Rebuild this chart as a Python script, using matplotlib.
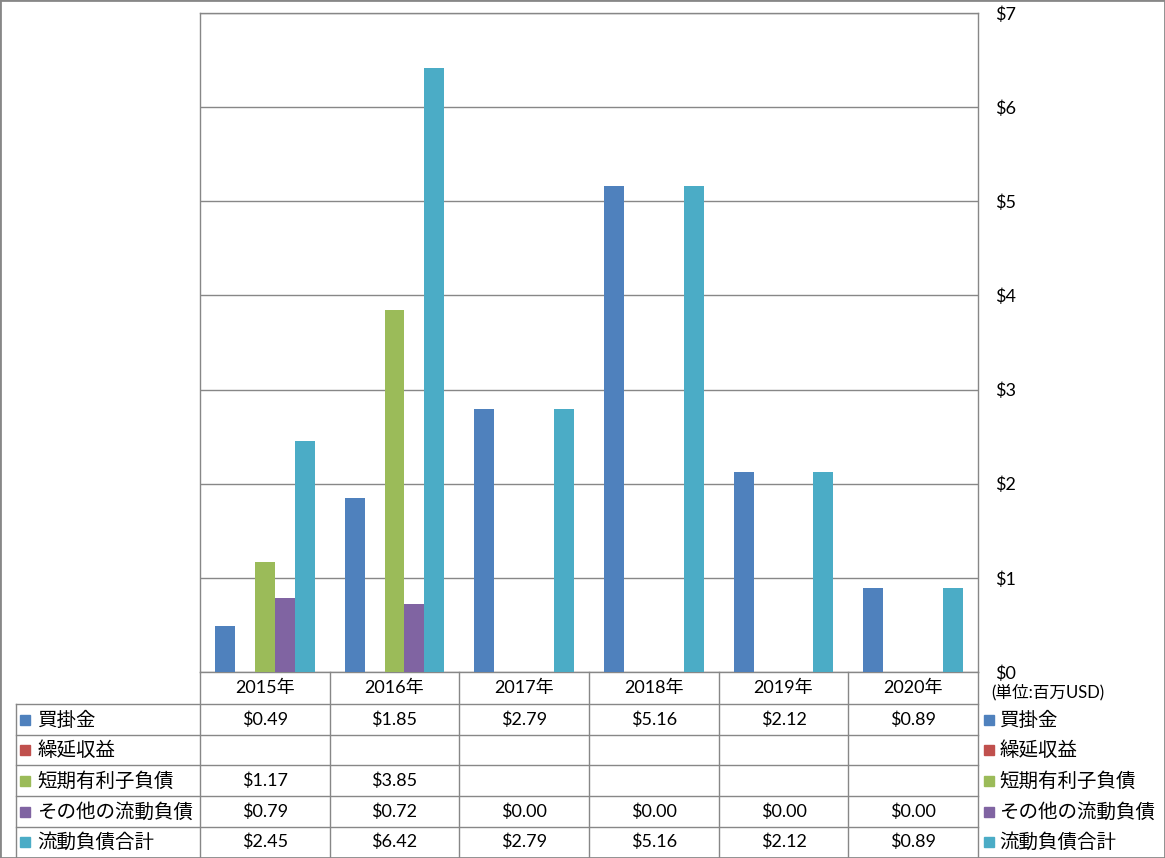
import matplotlib.pyplot as plt
import numpy as np
from matplotlib.lines import Line2D
from matplotlib.patches import Rectangle

plt.rcParams['font.family'] = ['Lato', 'Noto Sans CJK JP', 'DejaVu Sans']

# データ (単位: 百万USD)
years = ['2015年', '2016年', '2017年', '2018年', '2019年', '2020年']
series_names = ['買掛金', '繰延収益', '短期有利子負債', 'その他の流動負債', '流動負債合計']
kaikake = [0.49, 1.85, 2.79, 5.16, 2.12, 0.89]
enen = [np.nan, np.nan, np.nan, np.nan, np.nan, np.nan]
tanki = [1.17, 3.85, np.nan, np.nan, np.nan, np.nan]
sonota = [0.79, 0.72, 0.00, 0.00, 0.00, 0.00]
goukei = [2.45, 6.42, 2.79, 5.16, 2.12, 0.89]
colors = ['#4F81BD', '#C0504D', '#9BBB59', '#8064A2', '#4BACC6']
yticks = [0, 1, 2, 3, 4, 5, 6, 7]

values = [kaikake, enen, tanki, sonota, goukei]

W, H = 1165, 858
grid_c = '#878787'


def fx(x):
    return x / W


def fy(y):
    return 1 - y / H


fig = plt.figure(figsize=(W / 100, H / 100), dpi=100)

# グラフ領域
ax = fig.add_axes([fx(200), fy(672), 778 / W, 659 / H])
n = len(series_names)
gap = 1.5
bw = 1 / (n + gap)
x = np.arange(len(years))
for j, (vals, c) in enumerate(zip(values, colors)):
    ax.bar(x + (gap / 2 + j) * bw, vals, width=bw, align='edge', color=c, zorder=3)

ax.set_xlim(0, len(years))
ax.set_ylim(0, 7)
ax.set_xticks([])
ax.set_yticks(yticks)
ax.set_yticklabels([f'${v}' for v in yticks], fontsize=13)
ax.yaxis.tick_right()
ax.tick_params(axis='y', length=0, pad=12)
for lab in ax.get_yticklabels():
    lab.set_horizontalalignment('left')
ax.grid(axis='y', color=grid_c, linewidth=1, zorder=0)
for s in ax.spines.values():
    s.set_color(grid_c)
    s.set_linewidth(1)

# データテーブル
col_w = 778 / len(years)
col_x = [200 + col_w * k for k in range(len(years) + 1)]
row_y = [672, 704, 735, 765, 796, 827, 857]

def hline(x0, x1, y):
    fig.add_artist(Line2D([fx(x0), fx(x1)], [fy(y), fy(y)], transform=fig.transFigure,
                          color=grid_c, lw=1))


def vline(x, y0, y1):
    fig.add_artist(Line2D([fx(x), fx(x)], [fy(y0), fy(y1)], transform=fig.transFigure,
                          color=grid_c, lw=1))


for y in row_y[1:-1]:
    hline(16, 978, y)
vline(16, 704, 857)
for cx in col_x:
    vline(cx, 672, 857)

# 年ヘッダー
for k, yr in enumerate(years):
    fig.text(fx(col_x[k] + col_w / 2), fy(688), yr, ha='center', va='center', fontsize=13)

# 各行
for r, (name, vals, c) in enumerate(zip(series_names, values, colors)):
    yc = (row_y[r + 1] + row_y[r + 2]) / 2
    fig.patches.append(Rectangle((fx(20), fy(yc + 5)), 10 / W, 10 / H, color=c,
                                 transform=fig.transFigure, figure=fig))
    fig.text(fx(37), fy(yc), name, ha='left', va='center', fontsize=14)
    for k, v in enumerate(vals):
        if not np.isnan(v):
            fig.text(fx(col_x[k] + col_w / 2), fy(yc), f'${v:.2f}', ha='center',
                     va='center', fontsize=13)
    # 右側の凡例
    fig.patches.append(Rectangle((fx(984), fy(yc + 5)), 10 / W, 10 / H, color=c,
                                 transform=fig.transFigure, figure=fig))
    fig.text(fx(999), fy(yc), name, ha='left', va='center', fontsize=14)

fig.text(fx(991), fy(692), '(単位:百万USD)', ha='left', va='center', fontsize=12)

# 外枠
fig.patches.append(Rectangle((0, 0), 1, 1, fill=False, edgecolor=grid_c, lw=2,
                             transform=fig.transFigure, figure=fig))

plt.savefig('out.png', dpi=100)
